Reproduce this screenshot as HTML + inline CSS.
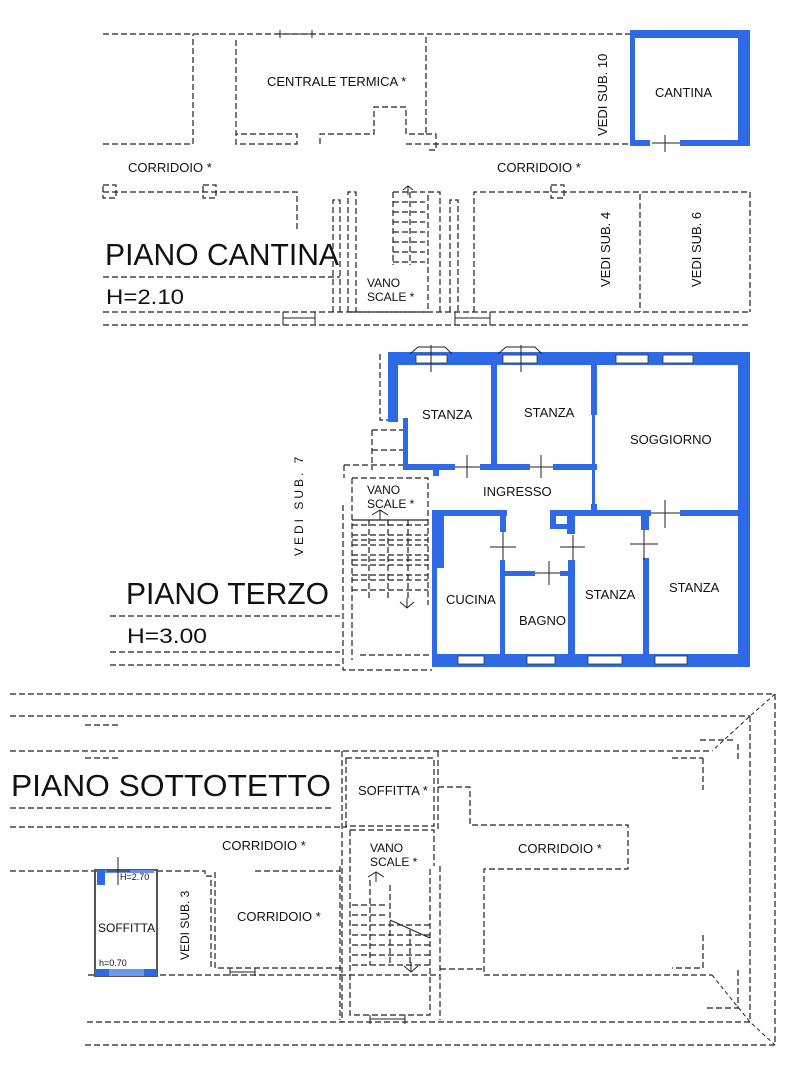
<!DOCTYPE html>
<html><head><meta charset="utf-8"><style>
html,body{margin:0;padding:0;background:#fff;}
svg{display:block;}
text{font-family:"Liberation Sans",Arial,sans-serif;fill:#111;}
.d{fill:none;stroke:#222;stroke-width:1.2;stroke-dasharray:6,3;}
.t{fill:none;stroke:#222;stroke-width:1;}
.b{fill:#2f6ae6;}
.w{fill:#fff;stroke:#333;stroke-width:0.8;}
</style></head><body>
<svg width="787" height="1080" viewBox="0 0 787 1080" xmlns="http://www.w3.org/2000/svg">
<!-- ================= PIANO CANTINA ================= -->
<g>
<path class="d" d="M103 34 H630"/>
<path class="d" d="M103 144 H193 V34"/>
<path class="d" d="M236 40 V134 H297 V144 H236 Z"/>
<path class="d" d="M320 144 V134 H374 V107 H406 V134 H426 V34"/>
<path class="d" d="M406 144 H630"/>
<path class="d" d="M426 134 H436 V150 H426"/>
<path class="d" d="M103 192 H297 V232"/>
<rect class="d" x="103" y="185" width="13" height="13"/>
<rect class="d" x="203" y="185" width="13" height="13"/>
<path class="d" d="M333 312 V200 H340 V312"/>
<path class="d" d="M348 312 V192 H356 V312"/>
<path class="d" d="M350 312 H428 V192 H440 V312"/>
<path class="d" d="M450 312 V200 H458 V312"/>
<path class="d" d="M393 192 H425 M393 202 H425 M393 212 H425 M393 222 H425 M393 232 H425 M393 242 H425 M393 252 H425 M393 262 H425 M393 192 V265 M410 192 V265"/>
<path class="t" d="M403 190 L408 186 L413 190 M408 186 V195"/>
<path class="d" d="M474 312 V192 H640 V312"/>
<path class="d" d="M642 192 H750 V312"/>
<rect class="d" x="551" y="185" width="13" height="13"/>
<path class="d" d="M103 312 H750"/>
<path class="d" d="M103 325 H750"/>
<path class="d" d="M103 277 H340"/>
<path class="t" d="M283 312 V325 M315 312 V325 M283 318 H315 M455 312 V325 M490 312 V325 M455 318 H490 M280 30 V38 M312 30 V38 M280 34 H312"/>
<!-- cantina -->
<rect class="b" x="630" y="30" width="120" height="8"/>
<rect class="b" x="738" y="30" width="12" height="116"/>
<rect class="b" x="630" y="30" width="5" height="116"/>
<rect class="b" x="630" y="140" width="20" height="6"/>
<rect class="b" x="680" y="140" width="70" height="6"/>
<path class="t" d="M652 143 H680 M665 135 V152"/>
<text x="267" y="86" font-size="13">CENTRALE TERMICA *</text>
<text x="128" y="172" font-size="13">CORRIDOIO *</text>
<text x="497" y="172" font-size="13">CORRIDOIO *</text>
<text x="655" y="97" font-size="13">CANTINA</text>
<text font-size="13" transform="translate(607,136) rotate(-90)">VEDI SUB. 10</text>
<text font-size="13" transform="translate(610,287) rotate(-90)">VEDI SUB. 4</text>
<text font-size="13" transform="translate(701,287) rotate(-90)">VEDI SUB. 6</text>
<text x="105" y="265" font-size="31" textLength="234" lengthAdjust="spacingAndGlyphs">PIANO CANTINA</text>
<text x="106" y="304" font-size="21" textLength="78" lengthAdjust="spacingAndGlyphs">H=2.10</text>
<text x="367" y="287" font-size="12">VANO</text>
<text x="367" y="301" font-size="12">SCALE *</text>
</g>
<!-- ================= PIANO TERZO ================= -->
<g>
<path class="d" d="M380 354 V420 H388"/>
<path class="d" d="M372 430 H405 V470 M372 430 V470 M372 450 H405"/>
<path class="d" d="M344 465 H404 M344 465 V478 M352 478 H428 V605 M352 478 V660"/>
<path class="d" d="M343 505 V670 H432 M360 655 H430"/>
<path class="d" d="M352 520 H428 M352 540 H428 M352 560 H428 M352 580 H428 M355 520 H428 M369 520 V600 M388 520 V600 M408 520 V600"/>
<path class="d" d="M352 525 H428 M352 535 H428 M352 545 H428 M352 555 H428 M352 565 H428 M352 575 H428 M352 590 H428"/>
<path class="t" d="M372 515 L380 510 L388 515 M380 510 V520 M400 602 L407 608 L414 602 M407 598 V608"/>
<path class="d" d="M110 616 H340 M110 652 H340 M110 665 H340"/>
<!-- blue walls -->
<rect class="b" x="388" y="352" width="362" height="13"/>
<rect class="b" x="738" y="352" width="12" height="315"/>
<rect class="b" x="432" y="654" width="318" height="13"/>
<rect class="b" x="388" y="352" width="10" height="70"/>
<rect class="b" x="403" y="418" width="5" height="52"/>
<rect class="b" x="403" y="464" width="52" height="6"/>
<rect class="b" x="480" y="464" width="50" height="6"/>
<rect class="b" x="553" y="464" width="44" height="6"/>
<rect class="b" x="433" y="464" width="6" height="12"/>
<rect class="b" x="491" y="365" width="6" height="102"/>
<rect class="b" x="591" y="365" width="6" height="50"/>
<rect class="b" x="592" y="415" width="3" height="95"/>
<rect class="b" x="591" y="504" width="6" height="8"/>
<rect class="b" x="591" y="510" width="60" height="6"/>
<rect class="b" x="680" y="510" width="58" height="6"/>
<rect class="b" x="432" y="510" width="75" height="6"/>
<rect class="b" x="432" y="510" width="12" height="58"/>
<rect class="b" x="432" y="560" width="5" height="100"/>
<rect class="b" x="500" y="510" width="6" height="22"/>
<rect class="b" x="500" y="560" width="5" height="96"/>
<rect class="b" x="505" y="571" width="30" height="5"/>
<rect class="b" x="560" y="571" width="8" height="5"/>
<rect class="b" x="568" y="560" width="7" height="96"/>
<rect class="b" x="550" y="510" width="45" height="6"/>
<rect class="b" x="550" y="510" width="6" height="18"/>
<rect class="b" x="550" y="524" width="20" height="5"/>
<rect class="b" x="567" y="516" width="8" height="18"/>
<rect class="b" x="641" y="510" width="8" height="20"/>
<rect class="b" x="643" y="558" width="6" height="98"/>
<!-- windows -->
<rect class="w" x="416" y="355" width="31" height="8"/>
<rect class="w" x="503" y="355" width="34" height="8"/>
<rect class="w" x="616" y="355" width="32" height="8"/>
<rect class="w" x="663" y="355" width="30" height="8"/>
<rect class="w" x="458" y="656" width="26" height="8"/>
<rect class="w" x="527" y="656" width="28" height="8"/>
<rect class="w" x="588" y="656" width="34" height="8"/>
<rect class="w" x="655" y="656" width="32" height="8"/>
<path class="t" d="M431 345 V372 M521 345 V372 M410 354 L418 347 H445 L452 354 M498 354 L506 347 H535 L542 354"/>
<!-- door symbols -->
<path class="t" d="M455 467 H480 M467 455 V478 M530 467 H553 M541 455 V478 M651 513 H680 M665 500 V528 M490 547 H516 M503 532 V560 M560 547 H585 M573 535 V560 M630 544 H658 M644 530 V560 M535 573 H560 M549 561 V585"/>
<text x="422" y="419" font-size="13">STANZA</text>
<text x="524" y="417" font-size="13">STANZA</text>
<text x="630" y="444" font-size="13">SOGGIORNO</text>
<text x="483" y="496" font-size="13">INGRESSO</text>
<text x="446" y="604" font-size="13">CUCINA</text>
<text x="519" y="625" font-size="13">BAGNO</text>
<text x="585" y="599" font-size="13">STANZA</text>
<text x="669" y="592" font-size="13">STANZA</text>
<text x="367" y="494" font-size="12">VANO</text>
<text x="367" y="508" font-size="12">SCALE *</text>
<text font-size="12" letter-spacing="3" transform="translate(303,556) rotate(-90)">VEDI SUB. 7</text>
<text x="126" y="604" font-size="31" textLength="203" lengthAdjust="spacingAndGlyphs">PIANO TERZO</text>
<text x="127" y="643" font-size="21" textLength="80" lengthAdjust="spacingAndGlyphs">H=3.00</text>
</g>
<!-- ================= PIANO SOTTOTETTO ================= -->
<g>
<path class="d" d="M10 694 H775 M10 716 H750 M10 751 H712"/>
<path class="t" d="M775 694 L750 716 L712 751 M712 975 L750 1022 L775 1045" stroke-dasharray="4,3"/>
<path class="d" d="M775 694 V1045 H85 M750 716 V1022 H85 M738 744 V760 M738 970 V1008 H705"/>
<path class="d" d="M85 725 H118 M85 758 H118 M703 758 V790 M672 758 H703 M703 935 V968 H672 M700 740 H735"/>
<path class="d" d="M10 808 H333 M10 827 H347"/>
<path class="d" d="M342 751 V1022 M438 751 V830 M346 758 H434 V826 H346 Z"/>
<path class="d" d="M438 787 H470 V825 H628 V869 H484 V975 H712"/>
<path class="d" d="M350 830 V1015 H430 V866 M350 830 H434 V866 M340 866 V1020 M440 866 V1020 M440 969 H484"/>
<path class="d" d="M352 905 H385 M352 915 H385 M352 925 H430 M352 935 H430 M352 945 H430 M352 955 H430 M352 965 H430 M370 880 V965 M390 885 V965 M410 930 V965"/>
<path class="t" d="M368 877 L376 872 L384 877 M376 872 V882 M404 966 L411 972 L418 966 M411 962 V972 M390 920 L430 938"/>
<path class="d" d="M10 871 H85 H100 M130 871 H205 V876 H211 V968 M255 871 H340 M215 872 V968 H342"/>
<path class="d" d="M88 975 H440"/>
<path class="t" d="M230 968 V976 M255 968 V976 M230 972 H255 M370 1015 V1024 M405 1015 V1024 M370 1019 H405"/>
<!-- soffitta small blue -->
<rect x="95" y="870" width="62" height="106" fill="none" stroke="#555" stroke-width="2"/>
<rect x="98" y="870" width="56" height="3" fill="#6a8fe0"/>
<rect class="b" x="97" y="870" width="8" height="15"/>
<rect x="95" y="969" width="62" height="7" fill="#6a9af0"/>
<rect class="b" x="95" y="969" width="14" height="7"/>
<rect class="b" x="144" y="969" width="13" height="7"/>
<path class="t" d="M118 857 V885 M107 871 H130"/>
<text x="98" y="932" font-size="12">SOFFITTA</text>
<text x="120" y="880" font-size="9" fill="#444">H=2.70</text>
<text x="99" y="966" font-size="9" fill="#444">h=0.70</text>
<text font-size="12" fill="#555" transform="translate(189,960) rotate(-90)">VEDI SUB. 3</text>
<text x="11" y="796" font-size="31" textLength="320" lengthAdjust="spacingAndGlyphs">PIANO SOTTOTETTO</text>
<text x="358" y="795" font-size="13">SOFFITTA *</text>
<text x="222" y="850" font-size="13">CORRIDOIO *</text>
<text x="518" y="853" font-size="13">CORRIDOIO *</text>
<text x="370" y="852" font-size="12">VANO</text>
<text x="370" y="866" font-size="12">SCALE *</text>
<text x="237" y="921" font-size="13">CORRIDOIO *</text>
</g>
</svg>
</body></html>
